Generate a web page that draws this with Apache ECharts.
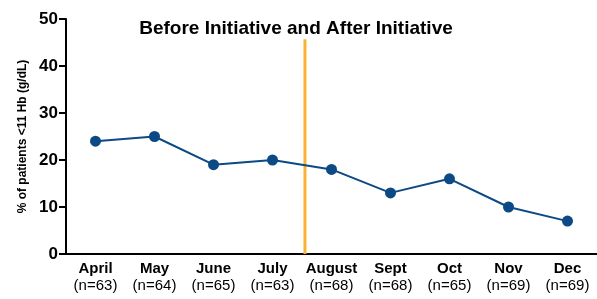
<!DOCTYPE html>
<html><head><meta charset="utf-8">
<script src="https://cdn.jsdelivr.net/npm/echarts@6/dist/echarts.min.js"></script>
<style>html,body{margin:0;padding:0;background:#fff}#c{width:597px;height:299px}</style>
</head><body><div id="c"></div>
<script>
const months = ['April','May','June','July','August','Sept','Oct','Nov','Dec'];
const counts = ['63','64','65','63','68','68','65','69','69'];
const values = [24,25,19,20,18,13,16,10,7];
const yTicks = [0,10,20,30,40,50];
const initiativeAt = 3.55;   // position between July and August
const initiativeTop = 45.7;
const titleText = 'Before Initiative and After Initiative';
const yName = '% of patients <11 Hb (g/dL)';

const chart = echarts.init(document.getElementById('c'), null, {renderer:'canvas'});
chart.setOption({
  animation:false,
  title:{text:titleText,left:291,top:14,textAlign:'center',
    textStyle:{fontFamily:'Liberation Sans',fontWeight:'bold',fontSize:19,color:'#000'}},
  grid:{left:66,right:-5,top:19,bottom:45,containLabel:false},
  xAxis:[{type:'category',data:months,boundaryGap:true,
    axisLine:{onZero:false,lineStyle:{color:'#000',width:2}},
    axisTick:{alignWithLabel:true,length:6,lineStyle:{color:'#000',width:2}},
    axisLabel:{interval:0,margin:6,
      formatter:(v,i)=>'{m|'+v+'}\n{n|(n='+counts[i]+')}',
      rich:{m:{fontFamily:'Liberation Sans',fontWeight:'bold',fontSize:15,color:'#000',lineHeight:17},
            n:{fontFamily:'Liberation Sans',fontSize:15,color:'#000',lineHeight:17}}}},
    {type:'value',min:-0.5,max:8.5,show:false}],
  yAxis:{type:'value',min:yTicks[0],max:yTicks[yTicks.length-1],interval:10,
    name:yName,nameLocation:'middle',nameGap:37,
    nameTextStyle:{fontFamily:'Liberation Sans',fontWeight:'bold',fontSize:12,color:'#000'},
    axisLine:{show:true,onZero:false,lineStyle:{color:'#000',width:2}},
    axisTick:{show:true,length:7,lineStyle:{color:'#000',width:2}},
    splitLine:{show:false},
    axisLabel:{margin:8,fontFamily:'Liberation Sans',fontWeight:'bold',fontSize:17,color:'#000'}},
  series:[
    {type:'line',data:values,symbol:'circle',symbolSize:11,
      lineStyle:{color:'#0b4a84',width:2},itemStyle:{color:'#0b4a84'},z:3},
    {type:'line',xAxisIndex:1,data:[[initiativeAt,0],[initiativeAt,initiativeTop]],
      symbol:'none',lineStyle:{color:'#f9b233',width:3},z:2}
  ]
});
</script></body></html>
